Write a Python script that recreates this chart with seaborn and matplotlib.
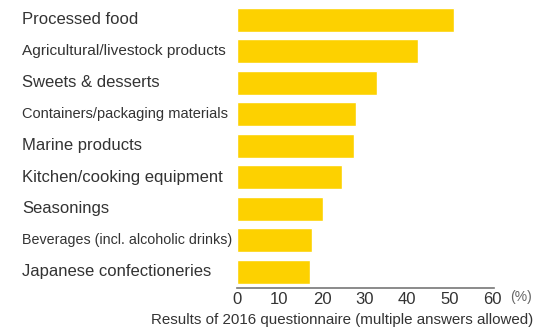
import matplotlib
matplotlib.use("Agg")
import matplotlib.pyplot as plt
import matplotlib.transforms as mtransforms
import seaborn as sns
import pandas as pd

categories = [
    "Processed food",
    "Agricultural/livestock products",
    "Sweets & desserts",
    "Containers/packaging materials",
    "Marine products",
    "Kitchen/cooking equipment",
    "Seasonings",
    "Beverages (incl. alcoholic drinks)",
    "Japanese confectioneries",
]
values = [51.1, 42.7, 33.0, 28.1, 27.6, 24.8, 20.3, 17.7, 17.2]
label_sizes = [12, 11.1, 12, 10.5, 12, 12, 12, 10.3, 12]
x_ticks = [0, 10, 20, 30, 40, 50, 60]
caption = "Results of 2016 questionnaire (multiple answers allowed)"
unit = "(%)"

sns.set_theme(style="white")
plt.rcParams["font.family"] = ["Liberation Sans", "DejaVu Sans"]

df = pd.DataFrame({"category": categories, "value": values})

fig = plt.figure(figsize=(5.34, 3.33), dpi=100)
ax = fig.add_axes([237 / 534, 1 - 287.5 / 333, 257 / 534, 283.5 / 333])

sns.barplot(data=df, x="value", y="category", order=categories, color="#FDD100",
            saturation=1, width=0.75, ax=ax)

ax.set_xlim(0, 60.5)
ax.set_ylim(len(categories) - 0.5, -0.5)
ax.set_xlabel("")
ax.set_ylabel("")
ax.set_xticks(x_ticks)
ax.set_xticklabels([str(t) for t in x_ticks], fontsize=12, color="#333333")
ax.tick_params(axis="x", length=0, pad=3)
ax.set_yticks([])
for s in ["top", "right", "left"]:
    ax.spines[s].set_visible(False)
ax.spines["bottom"].set_color("#777777")
ax.spines["bottom"].set_linewidth(1.2)

# left-aligned category labels (x in figure coords, y in data coords)
trans = mtransforms.blended_transform_factory(fig.transFigure, ax.transData)
for i, (cat, fs) in enumerate(zip(categories, label_sizes)):
    ax.text(22 / 534, i, cat, transform=trans, fontsize=fs,
            color="#333333", ha="left", va="center")

fig.text(510 / 534, 1 - 297 / 333, unit, fontsize=10, color="#666666",
         ha="left", va="center")
fig.text(151 / 534, 1 - 320 / 333, caption, fontsize=10.9, color="#333333",
         ha="left", va="center")

fig.savefig("out.png", dpi=100)
